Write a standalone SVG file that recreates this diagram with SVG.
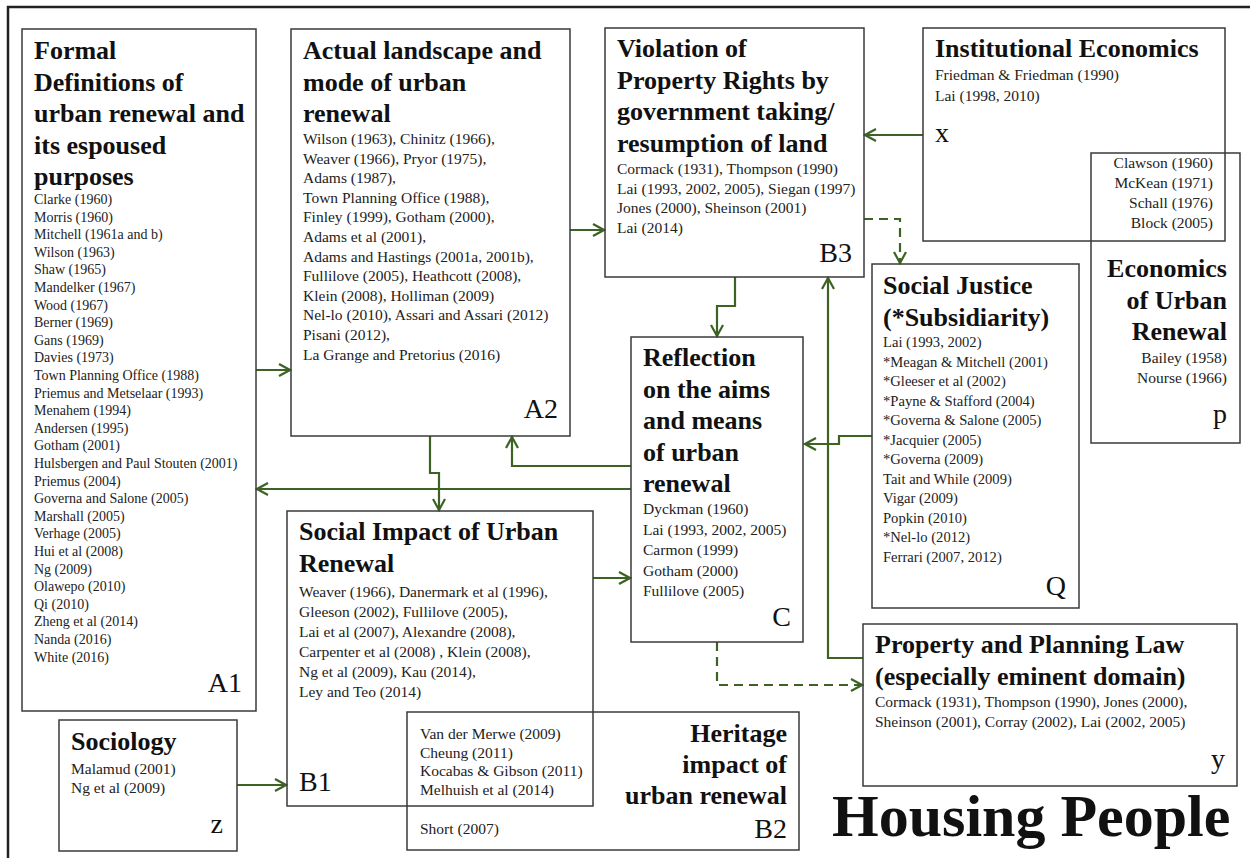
<svg xmlns="http://www.w3.org/2000/svg" width="1250" height="858" viewBox="0 0 1250 858">
<style>
.box{fill:none;stroke:#3a3a3a;stroke-width:1.5}
.t{font-family:"Liberation Serif","Times New Roman",serif;font-weight:bold;font-size:26px;fill:#111}
.r{font-family:"Liberation Serif","Times New Roman",serif;font-size:15.5px;fill:#222}
.rs{font-family:"Liberation Serif","Times New Roman",serif;font-size:14px;fill:#222}
.rq{font-family:"Liberation Serif","Times New Roman",serif;font-size:14.6px;fill:#222}
.lab{font-family:"Liberation Serif","Times New Roman",serif;font-size:28px;fill:#111}
.end{text-anchor:end}
.c{fill:none;stroke:#3d6324;stroke-width:2.2;marker-end:url(#arr)}
.d{stroke-dasharray:9 6}
</style>
<defs>
<marker id="arr" markerUnits="userSpaceOnUse" markerWidth="14" markerHeight="14" viewBox="0 0 14 14" refX="12" refY="7" orient="auto">
<path d="M1,1 L12,7 L1,13" fill="none" stroke="#3d6324" stroke-width="2.2"/>
</marker>
</defs>
<rect width="1250" height="858" fill="#fff"/>
<path d="M8,858 V7 H1250" fill="none" stroke="#222" stroke-width="2.5"/>

<g id="connectors">
<path class="c" d="M256,370 H290"/>
<path class="c" d="M631,489 H257"/>
<path class="c" d="M631,466 H512 V437"/>
<path class="c" d="M430,436 V473 H439 V510"/>
<path class="c" d="M735,277 V306 H717 V336"/>
<path class="c" d="M570,230 H604"/>
<path class="c" d="M923,135 H865"/>
<path class="c d" d="M864,219 H900 V263"/>
<path class="c" d="M872,436 H839 V444 H805"/>
<path class="c" d="M863,658 H828 V278"/>
<path class="c d" d="M717,642 V685 H862"/>
<path class="c" d="M593,578 H630"/>
<path class="c" d="M237,785 H286"/>
</g>

<g id="A1">
<rect class="box" x="22" y="29" width="234" height="682"/>
<text class="t" x="34" y="59">Formal</text>
<text class="t" x="34" y="90.5">Definitions of</text>
<text class="t" x="34" y="122">urban renewal and</text>
<text class="t" x="34" y="153.5">its espoused</text>
<text class="t" x="34" y="185">purposes</text>
<text class="rs" x="34" y="204">Clarke (1960)</text>
<text class="rs" x="34" y="221.6">Morris (1960)</text>
<text class="rs" x="34" y="239.2">Mitchell (1961a and b)</text>
<text class="rs" x="34" y="256.8">Wilson (1963)</text>
<text class="rs" x="34" y="274.4">Shaw (1965)</text>
<text class="rs" x="34" y="292">Mandelker (1967)</text>
<text class="rs" x="34" y="309.6">Wood (1967)</text>
<text class="rs" x="34" y="327.2">Berner (1969)</text>
<text class="rs" x="34" y="344.8">Gans (1969)</text>
<text class="rs" x="34" y="362.4">Davies (1973)</text>
<text class="rs" x="34" y="380">Town Planning Office (1988)</text>
<text class="rs" x="34" y="397.6">Priemus and Metselaar (1993)</text>
<text class="rs" x="34" y="415.2">Menahem (1994)</text>
<text class="rs" x="34" y="432.8">Andersen (1995)</text>
<text class="rs" x="34" y="450.4">Gotham (2001)</text>
<text class="rs" x="34" y="468">Hulsbergen and Paul Stouten (2001)</text>
<text class="rs" x="34" y="485.6">Priemus (2004)</text>
<text class="rs" x="34" y="503.2">Governa and Salone (2005)</text>
<text class="rs" x="34" y="520.8">Marshall (2005)</text>
<text class="rs" x="34" y="538.4">Verhage (2005)</text>
<text class="rs" x="34" y="556">Hui et al (2008)</text>
<text class="rs" x="34" y="573.6">Ng (2009)</text>
<text class="rs" x="34" y="591.2">Olawepo (2010)</text>
<text class="rs" x="34" y="608.8">Qi (2010)</text>
<text class="rs" x="34" y="626.4">Zheng et al (2014)</text>
<text class="rs" x="34" y="644">Nanda (2016)</text>
<text class="rs" x="34" y="661.6">White (2016)</text>
<text class="lab end" x="242" y="692">A1</text>
</g>

<g id="A2">
<rect class="box" x="291" y="29" width="279" height="407"/>
<text class="t" x="303" y="59">Actual landscape and</text>
<text class="t" x="303" y="90.5">mode of  urban</text>
<text class="t" x="303" y="122">renewal</text>
<text class="r" x="303" y="144">Wilson (1963), Chinitz (1966),</text>
<text class="r" x="303" y="163.6">Weaver (1966), Pryor (1975),</text>
<text class="r" x="303" y="183.2">Adams (1987),</text>
<text class="r" x="303" y="202.8">Town Planning Office (1988),</text>
<text class="r" x="303" y="222.4">Finley (1999), Gotham  (2000),</text>
<text class="r" x="303" y="242">Adams et al (2001),</text>
<text class="r" x="303" y="261.6">Adams and Hastings (2001a, 2001b),</text>
<text class="r" x="303" y="281.2">Fullilove (2005), Heathcott  (2008),</text>
<text class="r" x="303" y="300.8">Klein (2008), Holliman  (2009)</text>
<text class="r" x="303" y="320.4">Nel-lo (2010), Assari and Assari (2012)</text>
<text class="r" x="303" y="340">Pisani (2012),</text>
<text class="r" x="303" y="359.6">La Grange and Pretorius (2016)</text>
<text class="lab end" x="558" y="418">A2</text>
</g>

<g id="B3">
<rect class="box" x="605" y="28" width="259" height="249"/>
<text class="t" x="617" y="57">Violation of</text>
<text class="t" x="617" y="88.5">Property Rights by</text>
<text class="t" x="617" y="120">government taking/</text>
<text class="t" x="617" y="151.5">resumption of  land</text>
<text class="r" x="617" y="174">Cormack (1931), Thompson (1990)</text>
<text class="r" x="617" y="193.6">Lai (1993, 2002, 2005), Siegan (1997)</text>
<text class="r" x="617" y="213.2">Jones (2000), Sheinson (2001)</text>
<text class="r" x="617" y="232.8">Lai (2014)</text>
<text class="lab end" x="852" y="262">B3</text>
</g>

<g id="X">
<rect class="box" x="923" y="28" width="302" height="213"/>
<text class="t" x="935" y="57">Institutional Economics</text>
<text class="r" x="935" y="80">Friedman &amp; Friedman (1990)</text>
<text class="r" x="935" y="101">Lai (1998, 2010)</text>
<text class="lab" x="935" y="142">x</text>
</g>

<g id="P">
<rect class="box" x="1091" y="153" width="149" height="290"/>
<text class="r end" x="1213" y="168">Clawson (1960)</text>
<text class="r end" x="1213" y="188">McKean (1971)</text>
<text class="r end" x="1213" y="208">Schall (1976)</text>
<text class="r end" x="1213" y="228">Block (2005)</text>
<text class="t end" x="1227" y="277">Economics</text>
<text class="t end" x="1227" y="308.5">of  Urban</text>
<text class="t end" x="1227" y="340">Renewal</text>
<text class="r end" x="1227" y="363">Bailey (1958)</text>
<text class="r end" x="1227" y="382.5">Nourse (1966)</text>
<text class="lab end" x="1227" y="423">p</text>
</g>

<g id="Q">
<rect class="box" x="872" y="264" width="207" height="344"/>
<text class="t" x="883" y="294">Social Justice</text>
<text class="t" x="883" y="325.5">(*Subsidiarity)</text>
<text class="rq" x="883" y="347">Lai (1993, 2002)</text>
<text class="rq" x="883" y="366.5">*Meagan &amp; Mitchell (2001)</text>
<text class="rq" x="883" y="386">*Gleeser et al (2002)</text>
<text class="rq" x="883" y="405.5">*Payne &amp; Stafford (2004)</text>
<text class="rq" x="883" y="425">*Governa &amp; Salone (2005)</text>
<text class="rq" x="883" y="444.5">*Jacquier (2005)</text>
<text class="rq" x="883" y="464">*Governa (2009)</text>
<text class="rq" x="883" y="483.5">Tait and While (2009)</text>
<text class="rq" x="883" y="503">Vigar (2009)</text>
<text class="rq" x="883" y="522.5">Popkin (2010)</text>
<text class="rq" x="883" y="542">*Nel-lo (2012)</text>
<text class="rq" x="883" y="561.5">Ferrari (2007, 2012)</text>
<text class="lab end" x="1066" y="595">Q</text>
</g>

<g id="C">
<rect class="box" x="631" y="337" width="172" height="305"/>
<text class="t" x="643" y="366">Reflection</text>
<text class="t" x="643" y="397.5">on the aims</text>
<text class="t" x="643" y="429">and means</text>
<text class="t" x="643" y="460.5">of  urban</text>
<text class="t" x="643" y="492">renewal</text>
<text class="r" x="643" y="514">Dyckman (1960)</text>
<text class="r" x="643" y="534.5">Lai (1993, 2002, 2005)</text>
<text class="r" x="643" y="555">Carmon (1999)</text>
<text class="r" x="643" y="575.5">Gotham (2000)</text>
<text class="r" x="643" y="596">Fullilove (2005)</text>
<text class="lab end" x="791" y="626">C</text>
</g>

<g id="B1">
<rect class="box" x="287" y="511" width="306" height="295"/>
<text class="t" x="299" y="540">Social Impact of  Urban</text>
<text class="t" x="299" y="571.5">Renewal</text>
<text class="r" x="299" y="597">Weaver (1966), Danermark et al (1996),</text>
<text class="r" x="299" y="617">Gleeson (2002), Fullilove (2005),</text>
<text class="r" x="299" y="637">Lai et al (2007), Alexandre (2008),</text>
<text class="r" x="299" y="657">Carpenter et al (2008) , Klein (2008),</text>
<text class="r" x="299" y="677">Ng et al (2009), Kau (2014),</text>
<text class="r" x="299" y="697">Ley and Teo (2014)</text>
<text class="lab" x="299" y="791">B1</text>
</g>

<g id="B2">
<rect class="box" x="407" y="712" width="392" height="138"/>
<text class="r" x="420" y="739">Van der Merwe (2009)</text>
<text class="r" x="420" y="757.5">Cheung (2011)</text>
<text class="r" x="420" y="776">Kocabas &amp; Gibson (2011)</text>
<text class="r" x="420" y="794.5">Melhuish et al (2014)</text>
<text class="r" x="420" y="834">Short (2007)</text>
<text class="t end" x="787" y="742">Heritage</text>
<text class="t end" x="787" y="773">impact of</text>
<text class="t end" x="787" y="804">urban renewal</text>
<text class="lab end" x="787" y="838">B2</text>
</g>

<g id="Y">
<rect class="box" x="863" y="624" width="374" height="162"/>
<text class="t" x="875" y="653">Property and Planning Law</text>
<text class="t" x="875" y="685">(especially eminent domain)</text>
<text class="r" x="875" y="707">Cormack (1931),  Thompson (1990),  Jones (2000),</text>
<text class="r" x="875" y="727">Sheinson (2001), Corray (2002), Lai (2002, 2005)</text>
<text class="lab end" x="1225" y="768">y</text>
</g>

<g id="Z">
<rect class="box" x="59" y="720" width="178" height="131"/>
<text class="t" x="71" y="750">Sociology</text>
<text class="r" x="71" y="774">Malamud (2001)</text>
<text class="r" x="71" y="793">Ng et al (2009)</text>
<text class="lab end" x="223" y="833">z</text>
</g>

<text id="title" x="832" y="836" font-family="'Liberation Serif','Times New Roman',serif" font-weight="bold" font-size="60" fill="#111">Housing People</text>
</svg>
